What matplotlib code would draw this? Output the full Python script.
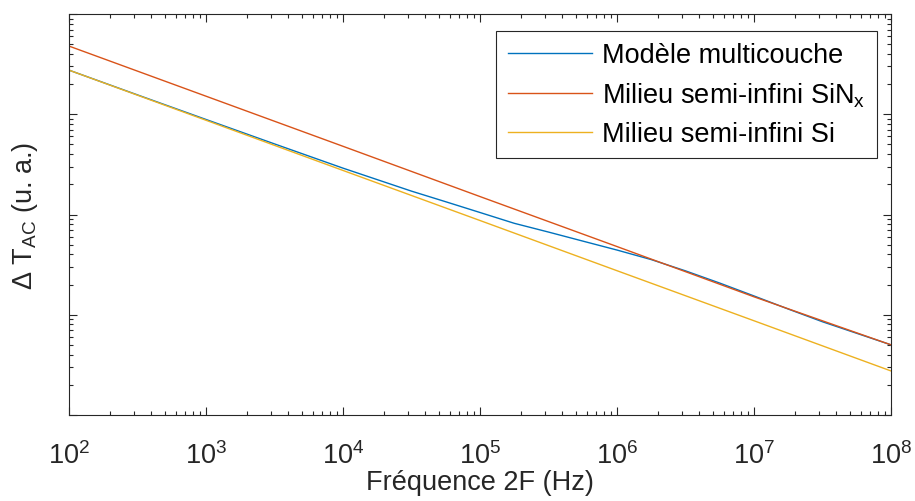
import numpy as np
import matplotlib
matplotlib.use("Agg")
import matplotlib.pyplot as plt
from matplotlib.ticker import LogLocator, NullFormatter, FixedLocator

plt.rcParams['font.family'] = ['Liberation Sans', 'DejaVu Sans']
plt.rcParams['mathtext.fontset'] = 'custom'
plt.rcParams['mathtext.rm'] = 'Liberation Sans'
plt.rcParams['mathtext.it'] = 'Liberation Sans:italic'
plt.rcParams['mathtext.bf'] = 'Liberation Sans:bold'

# Data
freq_lines = [1e2, 1e3, 1e4, 1e5, 1e6, 1e7, 1e8]
sinx_vals = [4786, 1514, 479, 151, 47.9, 15.1, 5.01]
si_vals = [2754, 871, 275, 87.1, 27.5, 8.71, 2.75]

freq_multi = [1e2, 316, 1e3, 3162, 1e4, 31623, 56234, 1e5, 177828, 316228,
              562341, 1e6, 1778279, 3162278, 5623413, 1e7, 17782794,
              31622777, 1e8]
multi_vals = [2754, 1560, 887, 506, 290, 171, 134, 104.7, 81.7, 66.8,
              54.3, 44.2, 35.5, 27.4, 20.7, 15.4, 11.4, 8.51, 5.01]

xticks = [1e2, 1e3, 1e4, 1e5, 1e6, 1e7, 1e8]
xticklabels = [r'$10^{2}$', r'$10^{3}$', r'$10^{4}$', r'$10^{5}$',
               r'$10^{6}$', r'$10^{7}$', r'$10^{8}$']
yticks = [1, 10, 100, 1000, 10000]

labels = ['Modèle multicouche', r'Milieu semi-infini SiN$_\mathrm{x}$',
          'Milieu semi-infini Si']
colors = ['#0072BD', '#D95319', '#EDB120']

fig = plt.figure(figsize=(9.15, 5.02), dpi=100)
ax = fig.add_axes([69/915, 86/502, 822/915, 401/502])

ax.plot(freq_multi, multi_vals, color=colors[0], lw=1.0, label=labels[0])
ax.plot(freq_lines, sinx_vals, color=colors[1], lw=1.0, label=labels[1])
ax.plot(freq_lines, si_vals, color=colors[2], lw=1.0, label=labels[2])

ax.set_xscale('log')
ax.set_yscale('log')
ax.set_xlim(1e2, 1e8)
ax.set_ylim(1, 1e4)

ax.set_xticks(xticks)
ax.set_xticklabels(xticklabels)
minor_x = [m * d for d in xticks[:-1] for m in range(2, 10)]
ax.xaxis.set_minor_locator(FixedLocator(minor_x))
ax.xaxis.set_minor_formatter(NullFormatter())
ax.set_yticks(yticks)
ax.set_yticklabels([])
minor_y = [m * d for d in yticks[:-1] for m in range(2, 10)]
ax.yaxis.set_minor_locator(FixedLocator(minor_y))
ax.yaxis.set_minor_formatter(NullFormatter())

edge = '#262626'
for s in ax.spines.values():
    s.set_color(edge)
    s.set_linewidth(0.8)
ax.tick_params(which='both', direction='in', top=True, right=True, colors=edge,
               labelcolor='#262626', width=0.8)
ax.tick_params(which='major', length=6, labelsize=19.5, pad=19)
ax.tick_params(which='minor', length=3)

ax.set_xlabel('Fréquence 2F (Hz)', fontsize=19.5, color='#262626', labelpad=0)
ax.set_ylabel(r'$\Delta$ T$_{\mathrm{AC}}$ (u. a.)', fontsize=19.5, color='#262626', labelpad=2)

leg = ax.legend(loc='upper right', bbox_to_anchor=(0.983, 0.958), borderaxespad=0,
                fontsize=19.5, fancybox=False, framealpha=1, edgecolor=edge,
                handlelength=3.1, handletextpad=0.4, labelspacing=0.45,
                borderpad=0.42)
leg.get_frame().set_linewidth(0.8)

fig.savefig('out.png', dpi=100)
